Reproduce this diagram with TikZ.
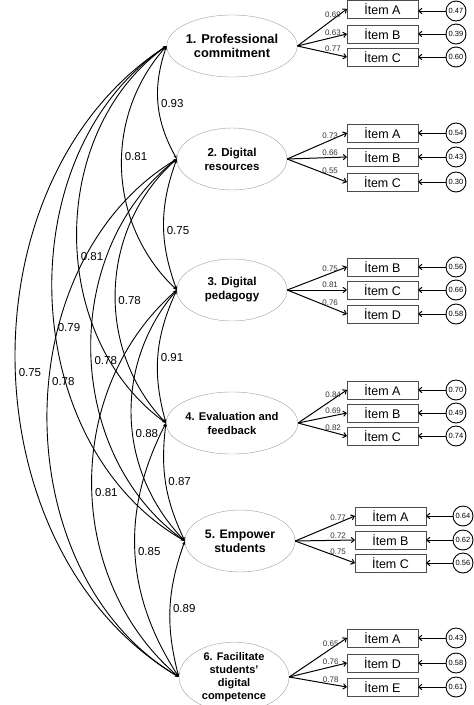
\documentclass[tikz,border=0pt]{standalone}
\usepackage{fontspec}
\setmainfont{Liberation Sans}
\usetikzlibrary{arrows.meta,shapes.geometric}
\begin{document}
\begin{tikzpicture}[x=1pt,y=-1pt,
  factor/.style={draw=gray!75, ellipse, minimum width=110pt, minimum height=62pt, inner sep=0pt, align=center},
  ff/.style={font=\fontsize{#1}{14}\selectfont\bfseries},
  item/.style={draw=gray!60!black, minimum width=71pt, minimum height=18pt, inner sep=0pt, font=\fontsize{12.5}{14}\selectfont},
  err/.style={draw, circle, line width=0.9pt, minimum size=20pt, inner sep=0pt, font=\fontsize{7.5}{8}\selectfont},
  load/.style={-{To[length=4pt,width=6pt]}, line width=1pt},
  lbl/.style={font=\fontsize{8}{9}\selectfont, text=black!80, inner sep=1.5pt, above, pos=0.72},
  cov/.style={{Stealth[length=4pt,width=3pt]}-{Stealth[length=4pt,width=3pt]}, line width=0.9pt},
  corr/.style={font=\fontsize{11.5}{12}\selectfont, anchor=west, inner sep=2.5pt}]
\useasboundingbox (0,0) rectangle (474,705);

% factors
\node[factor, ff=12.8] (f1) at (232,46) {1. Professional\\commitment};
\node[factor, ff=11.5] (f2) at (232,159) {2. Digital\\resources};
\node[factor, ff=11.5] (f3) at (232,290) {3. Digital\\pedagogy};
\node[factor, ff=11.2] (f4) at (232,423) {4. Evaluation and\\feedback};
\node[factor, ff=12.3] (f5) at (240,541) {5. Empower\\students};
\node[factor, minimum height=64pt, font=\fontsize{11}{13}\selectfont\bfseries] (f6) at (234,677) {6. Facilitate\\students'\\digital\\competence};

% items group 1
\node[item] (i1a) at (382.5,9) {İtem A};
\node[item] (i1b) at (382.5,34) {İtem B};
\node[item] (i1c) at (382.5,57) {İtem C};
\node[err] (e1a) at (456,11) {0.47};
\node[err] (e1b) at (456,34) {0.39};
\node[err] (e1c) at (456,57) {0.60};
\draw[load] (f1.east) -- node[lbl]{0.69} (i1a.west);
\draw[load] (f1.east) -- node[lbl]{0.63} (i1b.west);
\draw[load] (f1.east) -- node[lbl]{0.77} (i1c.west);
\draw[load] (e1a.west) -- (e1a.west -| i1a.east);
\draw[load] (e1b.west) -- (i1b.east);
\draw[load] (e1c.west) -- (i1c.east);

% items group 2
\node[item] (i2a) at (382.5,133) {İtem A};
\node[item] (i2b) at (382.5,157) {İtem B};
\node[item] (i2c) at (382.5,182) {İtem C};
\node[err] (e2a) at (456,133) {0.54};
\node[err] (e2b) at (456,157) {0.43};
\node[err] (e2c) at (456,182) {0.30};
\draw[load] (f2.east) -- node[lbl]{0.73} (i2a.west);
\draw[load] (f2.east) -- node[lbl]{0.66} (i2b.west);
\draw[load] (f2.east) -- node[lbl]{0.55} (i2c.west);
\draw[load] (e2a.west) -- (i2a.east);
\draw[load] (e2b.west) -- (i2b.east);
\draw[load] (e2c.west) -- (i2c.east);

% items group 3
\node[item] (i3b) at (382.5,267) {İtem B};
\node[item] (i3c) at (382.5,290) {İtem C};
\node[item] (i3d) at (382.5,314) {İtem D};
\node[err] (e3b) at (456,267) {0.56};
\node[err] (e3c) at (456,290) {0.66};
\node[err] (e3d) at (456,314) {0.58};
\draw[load] (f3.east) -- node[lbl]{0.75} (i3b.west);
\draw[load] (f3.east) -- node[lbl]{0.81} (i3c.west);
\draw[load] (f3.east) -- node[lbl]{0.76} (i3d.west);
\draw[load] (e3b.west) -- (i3b.east);
\draw[load] (e3c.west) -- (i3c.east);
\draw[load] (e3d.west) -- (i3d.east);

% items group 4
\node[item] (i4a) at (382.5,390) {İtem A};
\node[item] (i4b) at (382.5,413) {İtem B};
\node[item] (i4c) at (382.5,436) {İtem C};
\node[err] (e4a) at (456,390) {0.70};
\node[err] (e4b) at (456,413) {0.49};
\node[err] (e4c) at (456,436) {0.74};
\draw[load] (f4.east) -- node[lbl]{0.84} (i4a.west);
\draw[load] (f4.east) -- node[lbl]{0.69} (i4b.west);
\draw[load] (f4.east) -- node[lbl]{0.82} (i4c.west);
\draw[load] (e4a.west) -- (i4a.east);
\draw[load] (e4b.west) -- (i4b.east);
\draw[load] (e4c.west) -- (i4c.east);

% items group 5
\node[item] (i5a) at (390.5,516) {İtem A};
\node[item] (i5b) at (390.5,540) {İtem B};
\node[item] (i5c) at (390.5,563) {İtem C};
\node[err] (e5a) at (463,516) {0.64};
\node[err] (e5b) at (463,540) {0.62};
\node[err] (e5c) at (463,563) {0.56};
\draw[load] (f5.east) -- node[lbl]{0.77} (i5a.west);
\draw[load] (f5.east) -- node[lbl]{0.72} (i5b.west);
\draw[load] (f5.east) -- node[lbl]{0.75} (i5c.west);
\draw[load] (e5a.west) -- (i5a.east);
\draw[load] (e5b.west) -- (i5b.east);
\draw[load] (e5c.west) -- (i5c.east);

% items group 6
\node[item] (i6a) at (382.5,638) {İtem A};
\node[item] (i6d) at (382.5,663) {İtem D};
\node[item] (i6e) at (382.5,687) {İtem E};
\node[err] (e6a) at (456,638) {0.43};
\node[err] (e6d) at (456,663) {0.58};
\node[err] (e6e) at (456,687) {0.61};
\draw[load] (f6.east) -- node[lbl]{0.65} (i6a.west);
\draw[load] (f6.east) -- node[lbl]{0.76} (i6d.west);
\draw[load] (f6.east) -- node[lbl]{0.78} (i6e.west);
\draw[load] (e6a.west) -- (i6a.east);
\draw[load] (e6d.west) -- (i6d.east);
\draw[load] (e6e.west) -- (i6e.east);

% covariances
\draw[cov] (f1.west) to[bend right=24] node[corr,pos=0.5]{0.93} (f2.west);
\draw[cov] (f1.west) to[bend right=44] node[corr,pos=0.45]{0.81} (f3.west);
\draw[cov] (f1.west) to[bend right=54] node[corr,pos=0.55]{0.81} (f4.west);
\draw[cov] (f1.west) to[bend right=58] node[corr,pos=0.55]{0.79} (f5.west);
\draw[cov] (f1.west) to[bend right=58] node[corr,pos=0.51]{0.75} (f6.west);
\draw[cov] (f2.west) to[bend right=20] node[corr,pos=0.55]{0.75} (f3.west);
\draw[cov] (f2.west) to[bend right=46] node[corr,pos=0.54]{0.78} (f4.west);
\draw[cov] (f2.west) to[bend right=53] node[corr,pos=0.52]{0.78} (f5.west);
\draw[cov] (f2.west) to[bend right=59] node[corr,pos=0.44]{0.78} (f6.west);
\draw[cov] (f3.west) to[bend right=20] node[corr,pos=0.52]{0.91} (f4.west);
\draw[cov] (f3.west) to[bend right=42] node[corr,pos=0.56]{0.88} (f5.west);
\draw[cov] (f3.west) to[bend right=49] node[corr,pos=0.52]{0.81} (f6.west);
\draw[cov] (f4.west) to[bend right=16] node[corr,pos=0.48]{0.87} (f5.west);
\draw[cov] (f4.west) to[bend right=30] node[corr,pos=0.5]{0.85} (f6.west);
\draw[cov] (f5.west) to[bend right=17] node[corr,pos=0.5]{0.89} (f6.west);
\end{tikzpicture}
\end{document}
